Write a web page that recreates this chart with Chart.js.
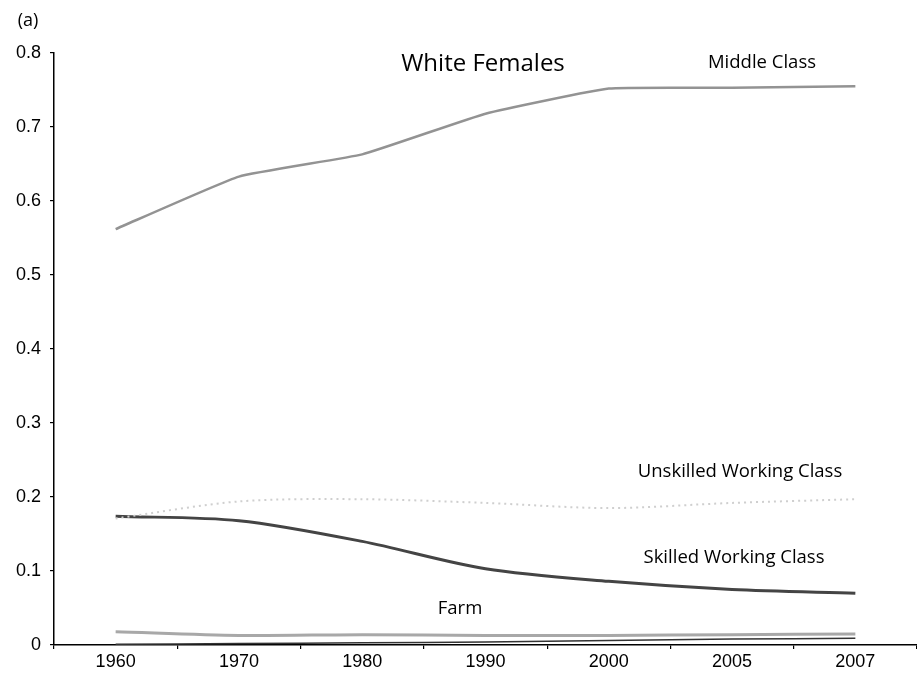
<!DOCTYPE html>
<html>
<head>
<meta charset="utf-8">
<script src="https://cdn.jsdelivr.net/npm/chart.js@4/dist/chart.umd.min.js"></script>
<style>
  html, body { margin: 0; padding: 0; background: #fff; }
  #wrap { width: 917px; height: 675px; position: relative; }
</style>
</head>
<body>
<div id="wrap"><canvas id="c" width="917" height="675"></canvas></div>
<script>
// ---- data ----
const years = ["1960", "1970", "1980", "1990", "2000", "2005", "2007"];
const middleClass = [0.562, 0.633, 0.663, 0.718, 0.752, 0.753, 0.755];
const unskilledWorkingClass = [0.171, 0.194, 0.197, 0.192, 0.185, 0.192, 0.197];
const skilledWorkingClass = [0.174, 0.168, 0.140, 0.103, 0.086, 0.075, 0.070];
const farm = [0.018, 0.013, 0.014, 0.013, 0.013, 0.014, 0.015];
const nearZero = [0.001, 0.002, 0.003, 0.004, 0.006, 0.008, 0.009];
const yTickValues = [0, 0.1, 0.2, 0.3, 0.4, 0.5, 0.6, 0.7, 0.8];
const yTickLabels = ["0", "0.1", "0.2", "0.3", "0.4", "0.5", "0.6", "0.7", "0.8"];

const annotations = [
  { text: "(a)", x: 28, y: 21, font: "400 18px 'Open Sans', sans-serif" },
  { text: "White Females", x: 483, y: 64, font: "500 24px 'Open Sans', sans-serif" },
  { text: "Middle Class", x: 762, y: 63, font: "500 18.5px 'Open Sans', sans-serif" },
  { text: "Unskilled Working Class", x: 740, y: 472, font: "500 18.5px 'Open Sans', sans-serif" },
  { text: "Skilled Working Class", x: 734, y: 558, font: "500 18.5px 'Open Sans', sans-serif" },
  { text: "Farm", x: 460, y: 609, font: "500 18.5px 'Open Sans', sans-serif" }
];

const textPlugin = {
  id: 'texts',
  afterDraw(chart) {
    const ctx = chart.ctx;
    ctx.save();
    ctx.fillStyle = '#000';
    ctx.textAlign = 'center';
    ctx.textBaseline = 'middle';
    annotations.forEach(a => {
      ctx.font = a.font;
      ctx.fillText(a.text, a.x, a.y);
    });
    ctx.restore();
  }
};

const tickFont = { family: "'Liberation Sans', Arial, sans-serif", size: 18 };

new Chart(document.getElementById('c'), {
  type: 'line',
  data: {
    labels: years,
    datasets: [
      { label: 'Middle Class', data: middleClass, borderColor: '#939393', borderWidth: 2.5, tension: 0.12 },
      { label: 'Unskilled Working Class', data: unskilledWorkingClass, borderColor: '#cfcfcf', borderWidth: 2, borderDash: [2, 4], tension: 0.3 },
      { label: 'Skilled Working Class', data: skilledWorkingClass, borderColor: '#444', borderWidth: 3, tension: 0.3 },
      { label: 'Farm', data: farm, borderColor: '#a8a8a8', borderWidth: 3, tension: 0.3 },
      { label: 'Other', data: nearZero, borderColor: '#333', borderWidth: 1.5, tension: 0.3 }
    ]
  },
  options: {
    responsive: false,
    animation: false,
    devicePixelRatio: 1,
    layout: { padding: { top: 53, right: 0, left: 0, bottom: 0 } },
    elements: { point: { radius: 0 } },
    plugins: { legend: { display: false }, tooltip: { enabled: false }, title: { display: false } },
    scales: {
      x: {
        type: 'category',
        offset: true,
        grid: { offset: true, drawOnChartArea: false, drawTicks: true, tickLength: 4, color: '#000', lineWidth: 1.2 },
        border: { display: true, color: '#000', width: 1.5 },
        ticks: { color: '#000', font: tickFont, padding: 2, maxRotation: 0, autoSkip: false },
        afterFit(s) { s.height = 30; }
      },
      y: {
        min: 0, max: 0.8,
        afterBuildTicks(s) { s.ticks = yTickValues.map(v => ({ value: v })); },
        grid: { drawOnChartArea: false, drawTicks: true, tickLength: 4, color: '#000', lineWidth: 1.2 },
        border: { display: true, color: '#000', width: 1.5 },
        ticks: {
          color: '#000', font: tickFont, padding: 9,
          callback: (v) => { const i = yTickValues.findIndex(t => Math.abs(t - v) < 1e-9); return i >= 0 ? yTickLabels[i] : ''; }
        },
        afterFit(s) { s.width = 54; }
      }
    }
  },
  plugins: [textPlugin]
});
</script>
</body>
</html>
